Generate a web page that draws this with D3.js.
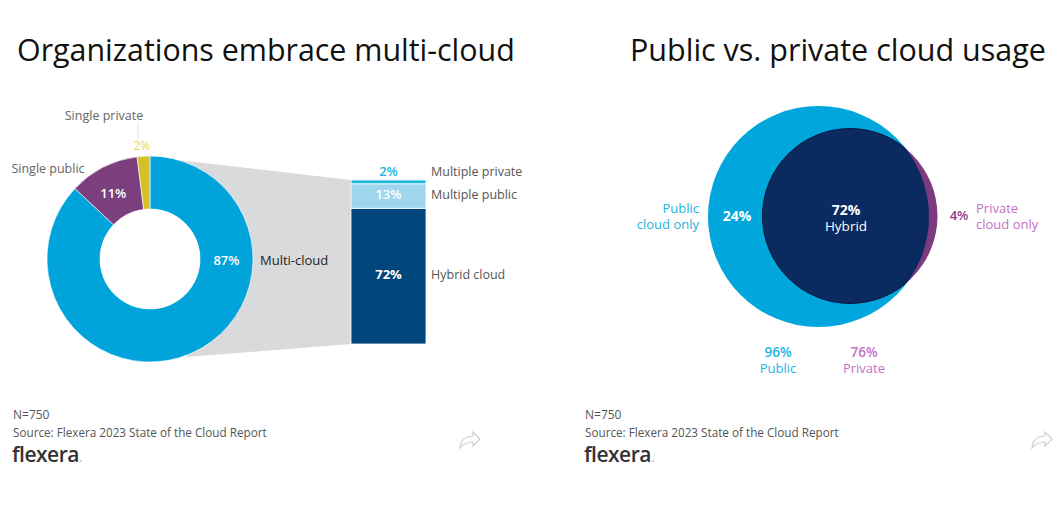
<!DOCTYPE html>
<html><head><meta charset="utf-8">
<script src="https://cdn.jsdelivr.net/npm/d3@7"></script>
<style>
html,body{margin:0;padding:0;background:#fff;}
svg text{font-family:"Open Sans","Noto Sans",sans-serif;}
</style></head>
<body><svg id="c" width="1057" height="528"></svg>
<script>
// ---- data ----
const donutCategories = ["Multi-cloud", "Single public", "Single private"];
const donutValues = [87, 11, 2];
const barCategories = ["Hybrid cloud", "Multiple public", "Multiple private"];
const barValues = [72, 13, 2];
const vennSets = ["Public", "Private"];
const vennSetValues = [96, 76];
const vennRegions = ["Public\ncloud only", "Hybrid", "Private\ncloud only"];
const vennRegionValues = [24, 72, 4];
const titles = ["Organizations embrace multi-cloud", "Public vs. private cloud usage"];
const footerN = "N=750";
const footerSource = "Source: Flexera 2023 State of the Cloud Report";

const svg = d3.select("#c");

function fitText(sel, target) {
  const w = sel.node().getComputedTextLength();
  const fs = parseFloat(sel.attr("font-size"));
  sel.attr("font-size", fs * target / w);
}

// ---- titles ----
fitText(svg.append("text").attr("x", 17).attr("y", 61).attr("font-size", 30).attr("fill", "#111").text(titles[0]), 498);
fitText(svg.append("text").attr("x", 630).attr("y", 61).attr("font-size", 30).attr("fill", "#111").text(titles[1]), 416);

// ---- left: donut + bar ----
const cx = 150, cy = 259, rOuter = 103, rInner = 50;
const barX = 351, barW = 75;
const barY = d3.scaleLinear().domain([0, d3.sum(barValues)]).range([344, 180]);

// gray funnel
const gl = svg.append("g");
gl.append("path")
  .attr("d", d3.line()([[178, 160], [barX, barY(87)], [barX, barY(0)], [186, 357], [238, 259]]) + "Z")
  .attr("fill", "#d9dadb");

const donutColors = ["#00a3da", "#7b3f7e", "#d3c12c"];
const pie = d3.pie().sort(null).value(d => d)(donutValues);
const arc = d3.arc().innerRadius(rInner).outerRadius(rOuter);
const dg = svg.append("g").attr("transform", `translate(${cx},${cy})`);
dg.selectAll("path").data(pie).join("path")
  .attr("d", arc).attr("fill", (d, i) => donutColors[i])
  .attr("stroke", "#fff").attr("stroke-width", 0.6);
dg.append("circle").attr("r", rInner).attr("fill", "#fff");

// donut labels
const lab = (x, y, t, fill, size, weight, anchor) =>
  svg.append("text").attr("x", x).attr("y", y).attr("font-size", size || 13)
    .attr("font-weight", weight || 400).attr("fill", fill)
    .attr("text-anchor", anchor || "middle").attr("dominant-baseline", "central").text(t);

// 87% at right side of ring
lab(cx + (rInner + rOuter) / 2, cy + 1, donutValues[0] + "%", "#fff", 13, 600);
lab(260, cy + 1, donutCategories[0], "#222", 13, 400, "start");
// 11% at centroid
const c1 = arc.centroid(pie[1]);
lab(cx + c1[0] - 2, cy + c1[1] + 2, donutValues[1] + "%", "#fff", 13, 600);
// 2% outside
const a2 = (pie[2].startAngle + pie[2].endAngle) / 2;
const ox = cx + Math.sin(a2) * (rOuter + 11) - 1, oy = cy - Math.cos(a2) * (rOuter + 11);
lab(ox, oy, donutValues[2] + "%", "#e6dc5a", 12, 400);
svg.append("line").attr("x1", 138).attr("x2", 138).attr("y1", 122).attr("y2", 139)
  .attr("stroke", "#e4e4e4").attr("stroke-width", 1);
lab(104, 115, donutCategories[2], "#666", 12.5);
lab(48, 168, donutCategories[1], "#666", 12.5);

// stacked bar
const barColors = ["#00457c", "#9fd6ee", "#1cb6e0"];
let acc = 0;
const segs = barValues.map((v, i) => { const s = { v, i, y0: acc, y1: acc + v }; acc += v; return s; });
svg.append("g").selectAll("rect").data(segs).join("rect")
  .attr("x", barX).attr("width", barW)
  .attr("y", d => barY(d.y1)).attr("height", d => barY(d.y0) - barY(d.y1))
  .attr("fill", d => barColors[d.i]).attr("stroke", "#fff").attr("stroke-width", 0.8);
const midX = barX + barW / 2;
lab(midX, barY(36) - 2, barValues[0] + "%", "#fff", 13, 700);
lab(midX, 194, barValues[1] + "%", "#fff", 13, 600);
lab(midX, 171, barValues[2] + "%", "#1cb6e0", 13, 600);
lab(431, 274, barCategories[0], "#555", 12.5, 400, "start");
lab(431, 194, barCategories[1], "#555", 12.5, 400, "start");
lab(431, 171, barCategories[2], "#555", 12.5, 400, "start");

// ---- right: venn ----
const rScale = d3.scaleLinear().domain([0, vennSetValues[0]]).range([0, 110.5]);
const pub = { x: 818.5, y: 216.5, r: rScale(vennSetValues[0]) };
const prv = { x: 850, y: 216, r: rScale(vennSetValues[1]) };
const defs = svg.append("defs");
defs.append("clipPath").attr("id", "pubclip").append("circle")
  .attr("cx", pub.x).attr("cy", pub.y).attr("r", pub.r);
svg.append("circle").attr("cx", pub.x).attr("cy", pub.y).attr("r", pub.r).attr("fill", "#00a6dc");
svg.append("circle").attr("cx", prv.x).attr("cy", prv.y).attr("r", prv.r).attr("fill", "#7b3b7e");
svg.append("circle").attr("cx", prv.x).attr("cy", prv.y).attr("r", prv.r)
  .attr("clip-path", "url(#pubclip)").attr("fill", "#0a2a60")
  .attr("stroke", "#061a40").attr("stroke-width", 1);

lab(737, 215, vennRegionValues[0] + "%", "#fff", 14, 700);
lab(846, 209, vennRegionValues[1] + "%", "#fff", 14, 700);
lab(846, 226, vennRegions[1], "#fff", 13.5, 400);
lab(959, 215, vennRegionValues[2] + "%", "#8a3d8a", 13, 600);
vennRegions[0].split("\n").forEach((t, i) => lab(699, 208 + i * 16, t, "#22b4e0", 13, 400, "end"));
vennRegions[2].split("\n").forEach((t, i) => lab(976, 208 + i * 16, t, "#c66fc6", 13, 400, "start"));
lab(778, 352, vennSetValues[0] + "%", "#22b4e0", 13.5, 600);
lab(778, 368, vennSets[0], "#22b4e0", 13, 400);
lab(864, 352, vennSetValues[1] + "%", "#c66fc6", 13.5, 600);
lab(864, 368, vennSets[1], "#c66fc6", 13, 400);

// ---- footers ----
[[12, 470], [584, 1042]].forEach(([fx, ix]) => {
  svg.append("text").attr("x", fx + 1).attr("y", 419).attr("font-size", 12).attr("fill", "#555").text(footerN);
  fitText(svg.append("text").attr("x", fx + 1).attr("y", 437).attr("font-size", 12).attr("fill", "#555").text(footerSource), 254);
  const lg = svg.append("text").attr("x", fx).attr("y", 462).attr("font-size", 21)
    .attr("font-weight", 600).attr("fill", "#333").attr("letter-spacing", -0.5).text("flexera");
  fitText(lg, 67);
  svg.append("circle").attr("cx", fx + 69).attr("cy", 461).attr("r", 0.8).attr("fill", "#999");
  // share icon
  svg.append("path")
    .attr("d", `M${ix - 10},${448} C${ix - 9},${439} ${ix - 3},${436} ${ix + 3},${436} L${ix + 3},${432} L${ix + 10},${439} L${ix + 3},${446} L${ix + 3},${442} C${ix - 3},${442} ${ix - 7},${444} ${ix - 10},${448} Z`)
    .attr("fill", "none").attr("stroke", "#cfcfcf").attr("stroke-width", 1.2);
});
</script></body></html>
